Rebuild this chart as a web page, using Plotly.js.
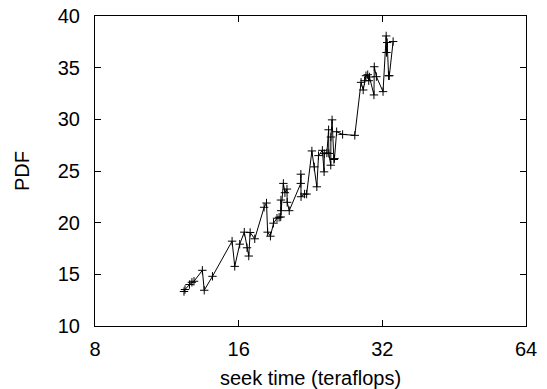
<!DOCTYPE html>
<html>
<head>
<meta charset="utf-8">
<script src="https://cdn.plot.ly/plotly-3.0.1.min.js"></script>
<style>html,body{margin:0;padding:0;background:#fff;}#chart{width:547px;height:389px;}</style>
</head>
<body>
<div id="chart"></div>
<script>
const seekTime = [12.29, 12.35, 12.62, 12.77, 12.90, 13.43, 13.55, 14.10, 15.50, 15.70,
  16.08, 16.44, 16.66, 16.80, 16.91, 17.29, 18.09, 18.30, 18.40, 18.65,
  18.93, 19.25, 19.45, 19.60, 19.62, 19.64, 19.85, 20.00, 20.20, 20.22,
  20.42, 21.59, 21.60, 21.62, 21.99, 22.21, 22.78, 23.05, 23.33, 23.52,
  23.96, 24.16, 24.18, 24.49, 24.69, 24.72, 24.95, 24.97, 25.11, 25.33,
  25.40, 25.67, 26.42, 28.02, 28.88, 29.18, 29.37, 29.57, 29.82, 29.97,
  30.07, 30.73, 30.78, 31.10, 32.11, 32.60, 32.65, 32.76, 32.98, 33.10, 33.71];
const pdf = [13.34, 13.53, 14.01, 14.23, 14.33, 15.39, 13.46, 14.81, 18.21, 15.77,
  17.92, 19.08, 17.57, 16.77, 19.05, 18.44, 21.49, 21.90, 19.08, 18.69,
  19.95, 20.43, 20.52, 20.55, 22.19, 21.16, 23.80, 22.90, 23.25, 21.97,
  21.16, 23.80, 24.69, 22.51, 22.77, 22.77, 26.94, 25.40, 23.47, 26.49,
  27.00, 24.92, 26.68, 26.75, 28.99, 26.70, 25.56, 28.29, 29.95, 26.11,
  26.20, 28.80, 28.54, 28.45, 33.58, 32.84, 33.74, 34.22, 34.32, 33.74,
  34.10, 32.36, 35.09, 34.13, 32.68, 38.07, 36.47, 37.43, 34.22, 34.22, 37.53];
const xTicks = [8, 16, 32, 64];
const xTickText = ['8', '16', '32', '64'];
const yTicks = [10, 15, 20, 25, 30, 35, 40];

const font = {family: 'Liberation Sans, Arial, sans-serif', size: 20, color: '#000'};
Plotly.newPlot('chart', [{
  x: seekTime, y: pdf, type: 'scatter', mode: 'lines+markers',
  line: {color: '#000', width: 1},
  marker: {symbol: 'cross-thin-open', size: 6, color: '#000', line: {color: '#000', width: 1}},
  showlegend: false
}], {
  width: 547, height: 389,
  margin: {l: 95, r: 21, t: 16, b: 63},
  paper_bgcolor: '#fff', plot_bgcolor: '#fff',
  font: font,
  xaxis: {
    type: 'log', range: [Math.log10(8), Math.log10(64)],
    tickvals: xTicks, ticktext: xTickText,
    ticks: 'inside', ticklen: 6, tickcolor: '#000', tickwidth: 1,
    showline: true, linecolor: '#000', linewidth: 1, mirror: 'ticks',
    showgrid: false, zeroline: false, automargin: false,
    tickfont: font, ticklabelstandoff: 5,
    title: {text: 'seek time (teraflops)', font: font, standoff: 14}
  },
  yaxis: {
    range: [10, 40], tickvals: yTicks,
    ticks: 'inside', ticklen: 6, tickcolor: '#000', tickwidth: 1,
    showline: true, linecolor: '#000', linewidth: 1, mirror: 'ticks',
    showgrid: false, zeroline: false, automargin: false,
    tickfont: font, ticklabelstandoff: 10,
    title: {text: 'PDF', font: font, standoff: 22}
  }
}, {displayModeBar: false, staticPlot: true});
</script>
</body>
</html>
